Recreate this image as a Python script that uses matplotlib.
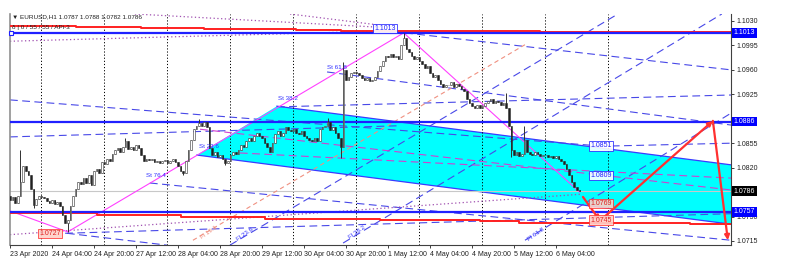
import matplotlib
matplotlib.use('Agg')
from matplotlib import pyplot as plt
from matplotlib.patches import Polygon
import numpy as np

plt.rcParams['font.family'] = ['Liberation Sans', 'DejaVu Sans']

# EURUSD H1 closes, one per bar from 23 Apr 12:00 to 6 May 13:00
closes = [
    1.0774, 1.0778, 1.0770, 1.0780, 1.0800, 1.0822, 1.0815, 1.0810, 1.0790, 1.0766,
    1.0775, 1.0780, 1.0778, 1.0776, 1.0772, 1.0770, 1.0774, 1.0768, 1.0771, 1.0765,
    1.0752, 1.0740, 1.0745, 1.0765, 1.0779, 1.0790, 1.0800, 1.0796, 1.0805, 1.0798,
    1.0810, 1.0795, 1.0815, 1.0818, 1.0812, 1.0828, 1.0825, 1.0832, 1.0830, 1.0840,
    1.0845, 1.0848, 1.0842, 1.0850, 1.0858, 1.0846, 1.0850, 1.0845, 1.0852, 1.0848,
    1.0838, 1.0830, 1.0833, 1.0831, 1.0832, 1.0828, 1.0830, 1.0826, 1.0829, 1.0831,
    1.0827, 1.0829, 1.0832, 1.0828, 1.0822, 1.0815, 1.0812, 1.0830, 1.0845, 1.0860,
    1.0875, 1.0880, 1.0884, 1.0880, 1.0885, 1.0878, 1.0848, 1.0838, 1.0842, 1.0835,
    1.0838, 1.0833, 1.0826, 1.0829, 1.0838, 1.0842, 1.0840, 1.0845, 1.0852, 1.0850,
    1.0858, 1.0862, 1.0858, 1.0865, 1.0870, 1.0866, 1.0862, 1.0855, 1.0850, 1.0843,
    1.0855, 1.0868, 1.0872, 1.0865, 1.0870, 1.0878, 1.0874, 1.0872, 1.0875, 1.0870,
    1.0868, 1.0872, 1.0866, 1.0862, 1.0860, 1.0858, 1.0862, 1.0858, 1.0875, 1.0878,
    1.0880, 1.0885, 1.0874, 1.0878, 1.0870, 1.0862, 1.0850, 1.0960, 1.0945, 1.0950,
    1.0955, 1.0957, 1.0955, 1.0952, 1.0948, 1.0945, 1.0948, 1.0944, 1.0946, 1.0950,
    1.0958, 1.0965, 1.0972, 1.0980, 1.0978, 1.0983, 1.0978, 1.0980, 1.0976, 1.0995,
    1.1005, 1.0990, 1.0985, 1.0980, 1.0976, 1.0978, 1.0972, 1.0968, 1.0962, 1.0965,
    1.0955, 1.0950, 1.0952, 1.0945, 1.0940, 1.0935, 1.0938, 1.0938, 1.0942, 1.0936,
    1.0940, 1.0937, 1.0932, 1.0930, 1.0918, 1.0912, 1.0908, 1.0905, 1.0910, 1.0906,
    1.0908, 1.0912, 1.0915, 1.0918, 1.0912, 1.0916, 1.0914, 1.0910, 1.0912, 1.0905,
    1.0880, 1.0845, 1.0838, 1.0842, 1.0836, 1.0840, 1.0860, 1.0842, 1.0840, 1.0838,
    1.0842, 1.0840, 1.0836, 1.0838, 1.0838, 1.0835, 1.0837, 1.0834, 1.0836, 1.0833,
    1.0830, 1.0825, 1.0818, 1.0810, 1.0800, 1.0792, 1.0788, 1.0786,
]
first_open = 1.0779
hi_idx = [4, 44, 72, 121, 127, 150, 189, 196]
hi_val = [1.0845, 1.0862, 1.0890, 1.0891, 1.0971, 1.1013, 1.0927, 1.0880]
lo_idx = [9, 22, 66, 82, 126, 191]
lo_val = [1.0762, 1.0728, 1.0809, 1.0824, 1.0834, 1.0835]

tick_pos = [0, 16, 32, 48, 64, 80, 96, 112, 128, 144, 160, 176, 192, 208]
tick_lbl = ['23 Apr 2020', '24 Apr 04:00', '24 Apr 20:00', '27 Apr 12:00', '28 Apr 04:00',
            '28 Apr 20:00', '29 Apr 12:00', '30 Apr 04:00', '30 Apr 20:00', '1 May 12:00',
            '4 May 04:00', '4 May 20:00', '5 May 12:00', '6 May 04:00']
day_sep = [12, 36, 60, 84, 108, 132, 156, 180, 204, 228]
price_ticks = [1.1030, 1.0995, 1.0960, 1.0925, 1.0855, 1.0820, 1.0750, 1.0715]

levels = [1.1013, 1.0886, 1.0757]
bid = 1.0786

# drawn objects: (bar, price) pairs
red_top_x = [0, 25, 50, 74, 109, 126, 175, 202, 275]
red_top_y = [1.1023, 1.1021, 1.1020, 1.1019, 1.1017, 1.1016, 1.1015, 1.1014, 1.1014]
red_bot_x = [0, 33, 65, 97, 141, 179, 194, 259, 275]
red_bot_y = [1.0755, 1.0752, 1.0750, 1.0747, 1.0745, 1.0744, 1.0741, 1.0739, 1.0739]
channel = [(71.2, 1.0838), (101.7, 1.0908), (274.7, 1.0824), (274.7, 1.0739)]
zigzag_x = [0, 22, 150, 217]
zigzag_y = [1.0758, 1.0728, 1.1013, 1.0785]
blue_dashed = [
    ((0, 1.0917), (225, 1.0851)), ((229.3, 1.0851), (274.7, 1.0855)),
    ((150.5, 1.1013), (274.7, 1.0960)), ((101.7, 1.0907), (274.7, 1.0924)),
    ((120.8, 1.0957), (274.7, 1.0881)), ((53.3, 1.0798), (274.7, 1.0716)),
    ((0, 1.0864), (148.6, 1.0880)), ((83.8, 1.0709), (231.6, 1.1040)),
    ((126.9, 1.0712), (271.2, 1.1040)), ((196.2, 1.0716), (274.7, 1.0898)),
    ((21, 1.0726), (274.7, 1.0754)), ((21.7, 1.0726), (59.8, 1.0709)),
]
salmon_dashed = [((69.7, 1.0716), (196.2, 1.0996))]
magenta_dashed = [((72.4, 1.0875), (274.7, 1.0788)), ((87.6, 1.0841), (274.7, 1.0805))]
purple_dotted = [((0, 1.0724), (217.9, 1.0782)), ((0, 1.1001), (146.7, 1.1016)),
                 ((47.6, 1.1040), (141, 1.1021)), ((106.7, 1.1040), (141, 1.1024))]
arrows = [((218.3, 1.0778), (224.8, 1.0744)), ((224.8, 1.0744), (267.8, 1.0887)),
          ((267.8, 1.0887), (273.5, 1.0716))]
blue_boxes = [(225.1, 1.0851, '1.0851'), (225.1, 1.0809, '1.0809'), (142.9, 1.1019, '1.1013')]
red_boxes = [(225.1, 1.0768, '1.0769'), (225.1, 1.0745, '1.0745'), (15.2, 1.0726, '1.0727')]
st_labels = [(72, 1.0847, 'St 23.6'), (102, 1.0915, 'St 38.2'), (120.8, 1.0960, 'St 61.8'),
             (51.8, 1.0805, 'St 76.4')]
fl_labels = [(86, 1.0725, 'Fl 23.6'), (128.8, 1.0728, 'Fl 38.2'), (197, 1.0725, 'Fl 61.8')]

W, H = 788, 273
fig = plt.figure(figsize=(W / 100, H / 100), dpi=100)
ax = fig.add_axes([10 / W, 1 - 245 / H, 721 / W, 231 / H])
ax.set_xlim(0, 274.7)
ax.set_ylim(1.07092, 1.10400)

BLUE = '#2020ff'
ax.add_patch(Polygon(channel, closed=True, facecolor='#00ffff', edgecolor='none', zorder=0))
for a, b in (channel[1:3], [channel[0], channel[3]]):
    ax.plot([a[0], b[0]], [a[1], b[1]], color='#3a3aff', lw=0.9, zorder=1)

for d in day_sep:
    ax.axvline(d, color='black', lw=0.7, ls=(0, (1.2, 2)), zorder=1)
ax.axhline(bid, color='#c8c8c8', lw=0.8, zorder=1)

for (x0, y0), (x1, y1) in blue_dashed:
    ax.plot([x0, x1], [y0, y1], color='#4848e8', lw=0.8, ls=(0, (7, 4)), zorder=2)
for (x0, y0), (x1, y1) in salmon_dashed:
    ax.plot([x0, x1], [y0, y1], color='#f09080', lw=0.8, ls=(0, (4, 3)), zorder=2)
for (x0, y0), (x1, y1) in magenta_dashed:
    ax.plot([x0, x1], [y0, y1], color='#d040d0', lw=0.8, ls=(0, (7, 4)), zorder=2)
for (x0, y0), (x1, y1) in purple_dotted:
    ax.plot([x0, x1], [y0, y1], color='#a050b0', lw=0.9, ls=(0, (1, 2)), zorder=2)

ax.plot(zigzag_x, zigzag_y, color='#ff40ff', lw=0.8, zorder=3)
ax.step(red_top_x, red_top_y, where='post', color='#ff2020', lw=1.4, zorder=3)
ax.step(red_bot_x, red_bot_y, where='post', color='#ff2020', lw=1.4, zorder=3)
for lv in levels:
    ax.axhline(lv, color=BLUE, lw=1.6, zorder=3)
ax.plot([0.4], [1.1013], marker='s', ms=3, mfc='white', mec=BLUE, mew=0.8, zorder=4, clip_on=False)

# candles
opens = [first_open] + closes[:-1]
highs = [max(o, c) for o, c in zip(opens, closes)]
lows = [min(o, c) for o, c in zip(opens, closes)]
for i, v in zip(hi_idx, hi_val):
    highs[i] = v
for i, v in zip(lo_idx, lo_val):
    lows[i] = v
idx = np.arange(len(closes))
ax.vlines(idx, lows, highs, color='#303030', lw=0.7, zorder=4)
for i, o, c in zip(idx, opens, closes):
    bull = c >= o
    ax.bar(i, max(abs(c - o), 0.00004), bottom=min(o, c), width=0.62,
           color='white' if bull else '#202020', edgecolor='#303030', lw=0.4, zorder=5)

for (x0, y0), (x1, y1) in arrows:
    ax.annotate('', xy=(x1, y1), xytext=(x0, y0),
                arrowprops=dict(arrowstyle='-|>', color='#ff3030', lw=1.6,
                                mutation_scale=7, shrinkA=0, shrinkB=0), zorder=6)

for x, y, t in blue_boxes:
    ax.text(x, y, t, fontsize=5, color='#2020ff', ha='center', va='center', zorder=7,
            bbox=dict(boxstyle='square,pad=0.15', fc='white', ec='#2020ff', lw=0.6, alpha=0.9))
for x, y, t in red_boxes:
    ax.text(x, y, t, fontsize=5, color='#e02020', ha='center', va='center', zorder=7,
            bbox=dict(boxstyle='square,pad=0.15', fc='#ffd0c8', ec='#ff3030', lw=0.6, alpha=0.9))
for x, y, t in st_labels:
    ax.text(x, y, t, fontsize=4.5, color='#3030ff', ha='left', va='bottom', zorder=7)
for x, y, t in fl_labels:
    ax.text(x, y, t, fontsize=4.5, color='#3030ff', ha='left', va='center', rotation=35, zorder=7)
ax.text(72.4, 1.0728, 'Fl 19.1', fontsize=4.5, color='#f09080', rotation=35, va='center', zorder=7)

# axes styling
ax.spines['top'].set_visible(False)
ax.spines['left'].set_color('#909090')
ax.spines['left'].set_linewidth(1.2)
ax.spines['bottom'].set_color('#404040')
ax.spines['right'].set_color('#404040')
ax.yaxis.tick_right()
ax.set_yticks(price_ticks)
ax.set_yticklabels(['%.4f' % p for p in price_ticks])
ax.set_xticks(tick_pos)
ax.set_xticklabels(tick_lbl, ha='left')
ax.tick_params(axis='both', labelsize=5, length=2.5, width=0.6, pad=1.5, colors='#202020')

for lv in levels:
    ax.text(1.004, lv, '%.4f' % lv, transform=ax.get_yaxis_transform(), fontsize=5,
            color='white', va='center', ha='left', zorder=8, clip_on=False,
            bbox=dict(boxstyle='square,pad=0.2', fc='#0000ff', ec='none'))
ax.text(1.004, bid, '%.4f' % bid, transform=ax.get_yaxis_transform(), fontsize=5,
        color='white', va='center', ha='left', zorder=8, clip_on=False,
        bbox=dict(boxstyle='square,pad=0.2', fc='black', ec='none'))

fig.text(12 / W, 1 - 17 / H, '\u25bc EURUSD,H1 1.0787 1.0788 1.0782 1.0786', fontsize=4.6,
         color='#202020', va='center')
fig.text(12 / W, 1 - 27 / H, '\u03b4 | 0 / 55 / 55 / APi-3', fontsize=4.6, color='#202020', va='center')

fig.savefig('out.png', dpi=100, facecolor='white')
